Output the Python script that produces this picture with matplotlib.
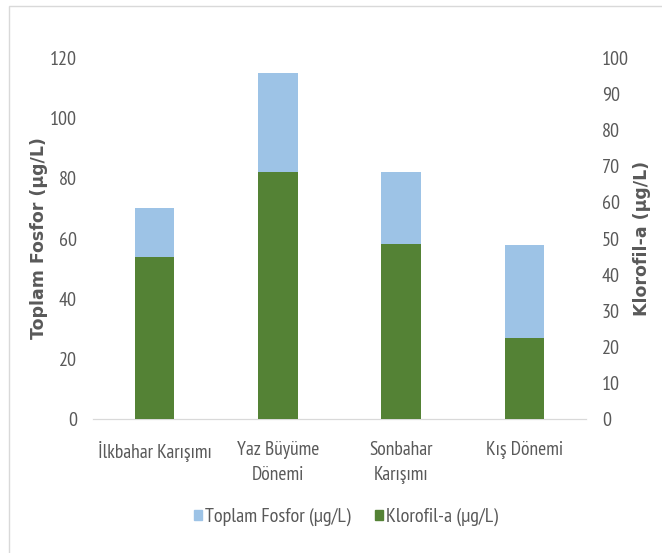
import matplotlib
matplotlib.use("Agg")
import matplotlib.pyplot as plt
from matplotlib import font_manager
from matplotlib.patches import Patch, Rectangle

categories = ["İlkbahar Karışımı", "Yaz Büyüme\nDönemi", "Sonbahar\nKarışımı", "Kış Dönemi"]
fosfor = [70, 115, 82, 58]
klorofil = [45, 68.5, 48.5, 22.5]
left_ticks = [0, 20, 40, 60, 80, 100, 120]
right_ticks = [0, 10, 20, 30, 40, 50, 60, 70, 80, 90, 100]

names = {f.name for f in font_manager.fontManager.ttflist}
narrow = next((n for n in ["PT Sans Narrow", "Archivo Narrow", "Roboto Condensed", "Carlito"]
               if n in names), "DejaVu Sans")
boldfont = "DejaVu Sans"

blue = "#9DC3E6"
green = "#548235"
txt = "#595959"

fig = plt.figure(figsize=(6.62, 5.53), dpi=100)
fig.patches.append(Rectangle((9/662, -0.1), 1.2, 1 - 6/553 + 0.1, transform=fig.transFigure,
                             fill=False, edgecolor="#D9D9D9", linewidth=1.0))
ax = fig.add_axes([93/662, 1 - 419/553, (586 - 93)/662, (419 - 58)/553])
ax2 = ax.twinx()

x = list(range(len(categories)))
w = 0.32
ax.bar(x, fosfor, width=w, color=blue, zorder=2)
ax2.bar(x, klorofil, width=w, color=green, zorder=3)

ax.set_ylim(0, 120)
ax2.set_ylim(0, 100)
ax.set_xlim(-0.5, 3.5)
ax.set_yticks(left_ticks)
ax2.set_yticks(right_ticks)
ax.set_xticks(x)
ax.set_xticklabels(categories, fontfamily=narrow, fontsize=14, color=txt, linespacing=1.45)

for a in (ax, ax2):
    for s in a.spines.values():
        s.set_visible(False)
    a.tick_params(length=0)
for a in (ax, ax2):
    a.spines["bottom"].set_visible(True)
    a.spines["bottom"].set_color("#D9D9D9")

ax.tick_params(axis="y", pad=11.5, labelsize=14.5, labelcolor=txt)
ax2.tick_params(axis="y", pad=11.5, labelsize=14.5, labelcolor=txt)
ax.tick_params(axis="x", pad=16)
for lab in ax.get_yticklabels() + ax2.get_yticklabels():
    lab.set_fontfamily(narrow)

ax.set_ylabel("Toplam Fosfor (µg/L)", fontsize=12.5, fontweight="bold", color=txt,
              fontfamily=boldfont)
ax.yaxis.set_label_coords(-45/493, 0.5)
ax2.set_ylabel("Klorofil-a (µg/L)", fontsize=12.5, fontweight="bold", color=txt,
               fontfamily=boldfont, rotation=90)
ax2.yaxis.set_label_coords(1 + 47/493, 0.5)

handles = [Patch(color=blue, label="Toplam Fosfor (µg/L)"),
           Patch(color=green, label="Klorofil-a (µg/L)")]
fig.legend(handles=handles, loc="center", bbox_to_anchor=(346/662, 1 - 517/553), ncol=2,
           frameon=False, prop={"family": narrow, "size": 14.5}, labelcolor=txt,
           handlelength=0.4, handleheight=0.4, handletextpad=0.15, columnspacing=1.25)

fig.savefig("out.png", dpi=100)
